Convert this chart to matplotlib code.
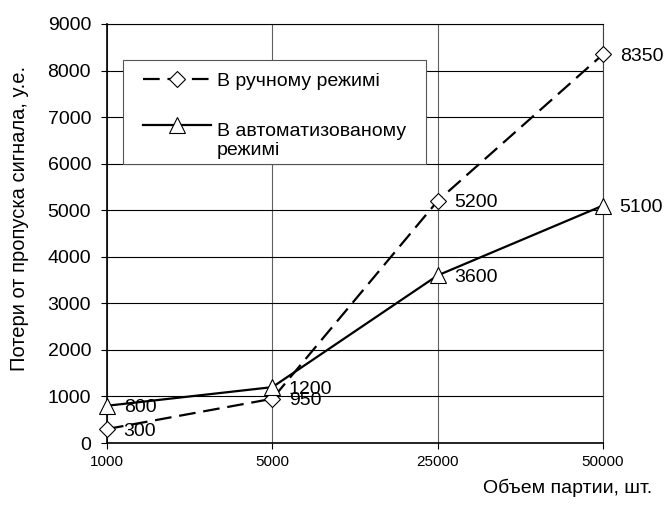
import numpy as np
import matplotlib.pyplot as plt
from matplotlib.legend_handler import HandlerLine2D
from matplotlib.patches import Rectangle

plt.rcParams['font.family'] = ['Liberation Sans', 'DejaVu Sans']

# Дані
categories = ['1000', '5000', '25000', '50000']
manual = [300, 950, 5200, 8350]
auto = [800, 1200, 3600, 5100]
label_manual = 'В ручному режимі'
label_auto = 'В автоматизованому\nрежимі'


class ShiftedHandler(HandlerLine2D):
    # зсув маркера легенди (у пунктах)
    def __init__(self, xshift=0, yshift=0, **kw):
        super().__init__(**kw)
        self.xshift = xshift
        self.yshift = yshift

    def create_artists(self, legend, orig_handle, xdescent, ydescent, width,
                       height, fontsize, trans):
        return super().create_artists(legend, orig_handle,
                                      xdescent - self.xshift,
                                      ydescent - 2 * self.yshift,
                                      width - self.xshift, height, fontsize, trans)


fig = plt.figure(figsize=(6.66, 5.07), dpi=100)
ax = fig.add_axes([107 / 666, 1 - 443 / 507, 496 / 666, 419 / 507])

x = np.arange(len(categories))

l1, = ax.plot(x, manual, color='black', linestyle=(0, (7.5, 3.5)), linewidth=1.6,
              marker='D', markersize=8, markerfacecolor='white', markeredgecolor='black',
              markeredgewidth=0.8, label=label_manual, zorder=4, clip_on=False)
l2, = ax.plot(x, auto, color='black', linestyle='-', linewidth=1.6,
              marker='^', markersize=11, markerfacecolor='white', markeredgecolor='black',
              markeredgewidth=0.8, label=label_auto, zorder=4, clip_on=False)

# Підписи значень
for xi, v in zip(x, manual):
    ax.annotate(str(v), (xi, v), xytext=(12, -1.5), textcoords='offset points',
                va='center', ha='left', fontsize=14, annotation_clip=False)
for xi, v in zip(x, auto):
    ax.annotate(str(v), (xi, v), xytext=(12, -1.5), textcoords='offset points',
                va='center', ha='left', fontsize=14, annotation_clip=False)

ax.set_xlim(0, 3)
ax.set_ylim(0, 9000)
ax.set_xticks(x)
ax.set_xticklabels(categories, fontsize=11)
ax.set_yticks(np.arange(0, 9001, 1000))
ax.tick_params(axis='y', labelsize=14, direction='out', length=4.5, width=0.8, pad=7)
ax.tick_params(axis='x', direction='out', length=4.5, width=0.8, pad=4)

ax.grid(axis='y', color='black', linewidth=0.8)
ax.grid(axis='x', color='#606060', linewidth=0.8)
ax.set_axisbelow(True)
ax.spines['top'].set_linewidth(0.8)
ax.spines['right'].set_linewidth(0.8)
ax.spines['right'].set_color('#404040')
ax.spines['left'].set_linewidth(1.2)
ax.spines['bottom'].set_linewidth(1.2)

fig.text(20 / 666, 1 - 218 / 507, 'Потери от пропуска сигнала, у.е.', rotation=90,
         ha='center', va='center', fontsize=14.5)
fig.text(652 / 666, 1 - 488 / 507, 'Объем партии, шт.', ha='right', va='center',
         fontsize=14)

# Рамка легенди
ax.add_patch(Rectangle(((123 - 107) / 496, (443 - 164) / 419), 303 / 496, 104 / 419,
                       transform=ax.transAxes, facecolor='white', edgecolor='#555555',
                       linewidth=0.8, zorder=4.5, clip_on=False))

leg = ax.legend(handles=[l1, l2], loc='upper left',
                bbox_to_anchor=((143 - 107) / 496, (443 - 72) / 419),
                fontsize=14, frameon=False, handlelength=3.5,
                labelspacing=1.7, borderpad=0, handletextpad=0.3,
                borderaxespad=0,
                handler_map={l1: ShiftedHandler(), l2: ShiftedHandler(yshift=11)})
leg.get_texts()[1].set_linespacing(1.15)
leg.set_zorder(5)

plt.savefig('out.png', dpi=100)
